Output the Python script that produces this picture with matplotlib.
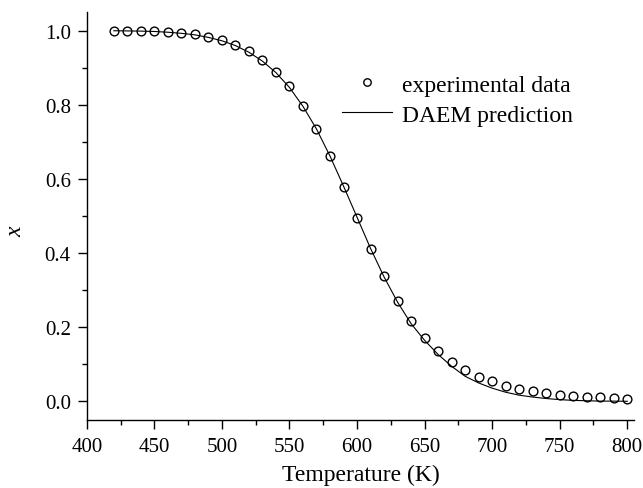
import matplotlib.pyplot as plt
from matplotlib.ticker import MultipleLocator

plt.rcParams['font.family'] = 'Liberation Serif'

temp = [420, 430, 440, 450, 460, 470, 480, 490, 500, 510, 520, 530, 540,
        550, 560, 570, 580, 590, 600, 610, 620, 630, 640, 650, 660, 670,
        680, 690, 700, 710, 720, 730, 740, 750, 760, 770, 780, 790, 800]

x_exp = [1.0, 1.0, 0.999, 0.998, 0.997, 0.994, 0.99, 0.983, 0.974, 0.962,
         0.945, 0.922, 0.890, 0.850, 0.798, 0.735, 0.661, 0.579, 0.494,
         0.411, 0.338, 0.272, 0.216, 0.172, 0.136, 0.107, 0.084, 0.066,
         0.054, 0.043, 0.034, 0.028, 0.023, 0.018, 0.016, 0.013, 0.011,
         0.009, 0.008]

x_daem = [1.0, 0.9995, 0.999, 0.998, 0.996, 0.993, 0.989, 0.982, 0.973,
          0.960, 0.942, 0.918, 0.887, 0.847, 0.796, 0.735, 0.662, 0.581,
          0.497, 0.413, 0.336, 0.268, 0.210, 0.165, 0.127, 0.095, 0.068,
          0.050, 0.036, 0.025, 0.017, 0.012, 0.008, 0.005, 0.003, 0.002,
          0.001, 0.001, 0.0005]

fig = plt.figure(figsize=(6.43, 4.89), dpi=100)
ax = fig.add_axes([0.135, 0.139, 0.851, 0.834])

ax.plot(temp, x_exp, 'o', mfc='none', mec='black', markersize=6.3, mew=1.0,
        label='experimental data')
ax.plot(temp, x_daem, color='black', linewidth=0.8, label='DAEM prediction')

ax.set_xlim(400, 805)
ax.set_ylim(-0.05, 1.05)
ax.xaxis.set_major_locator(MultipleLocator(50))
ax.xaxis.set_minor_locator(MultipleLocator(25))
ax.yaxis.set_major_locator(MultipleLocator(0.2))
ax.yaxis.set_minor_locator(MultipleLocator(0.1))
ax.yaxis.set_major_formatter(plt.FormatStrFormatter('%.1f'))

for s in ['top', 'right']:
    ax.spines[s].set_visible(False)
for s in ['left', 'bottom']:
    ax.spines[s].set_linewidth(1.0)

ax.tick_params(which='major', direction='out', length=6.5, width=1.0,
               labelsize=15, pad=5)
ax.tick_params(axis='x', which='major', pad=6)
ax.tick_params(which='minor', direction='out', length=3.4, width=1.0)

ax.set_xlabel('Temperature (K)', fontsize=17, labelpad=5)
ax.set_ylabel('x', fontsize=17, style='italic')
ax.yaxis.set_label_coords(-0.11, 0.463)

ax.legend(loc='upper left', bbox_to_anchor=(0.467, 0.848), frameon=False,
          fontsize=17, handlelength=2.1, handletextpad=0.42,
          labelspacing=0.35, borderpad=0, borderaxespad=0, markerscale=0.85)

fig.savefig('out.png', dpi=100)
